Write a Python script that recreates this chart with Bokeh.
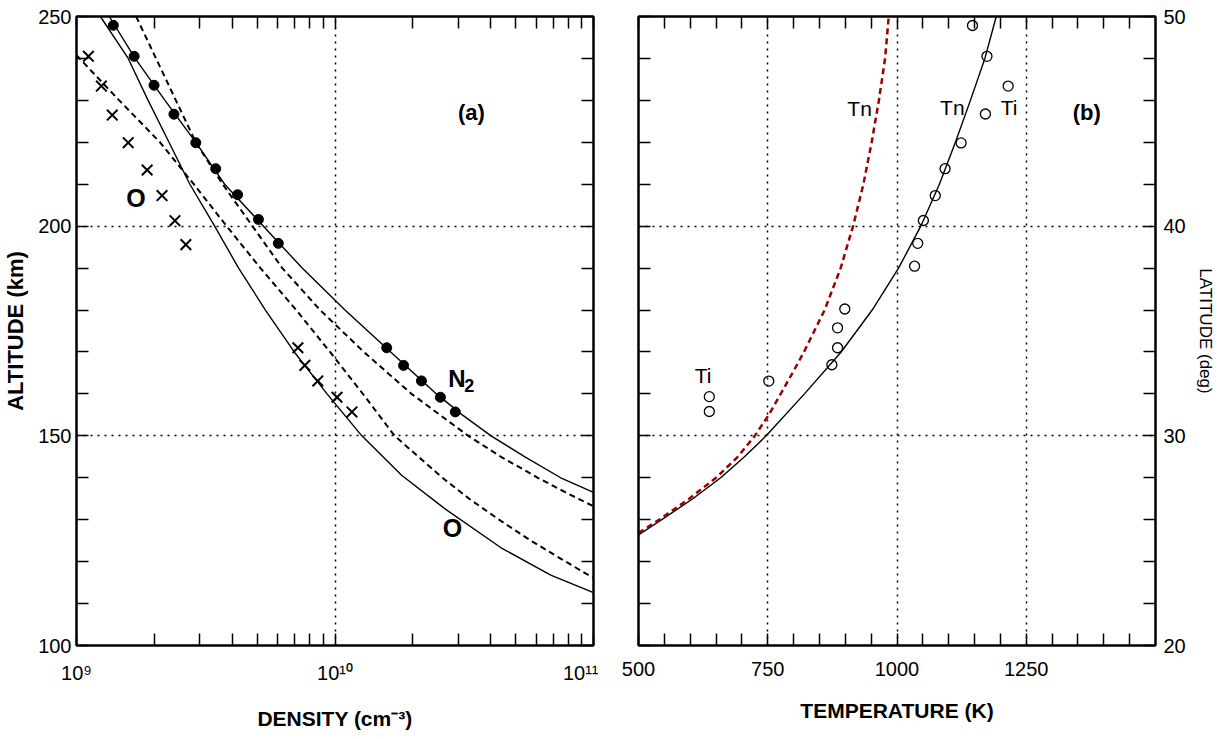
from bokeh.plotting import figure
from bokeh.models import Range1d, FixedTicker, LinearAxis, LogAxis, Label, CustomJSTickFormatter
from bokeh.layouts import row
from bokeh.embed import file_html
from bokeh.resources import INLINE

FONT = "Liberation Sans"

# ---------------- panel (a): density vs altitude ----------------
N2_OBS_ALT = [247.9, 240.5, 233.6, 226.7, 219.9, 213.7, 207.5, 201.6, 195.9, 171.0, 166.8, 163.1, 159.2, 155.7]
N2_OBS_DEN = [1.388e9, 1.671e9, 1.995e9, 2.382e9, 2.894e9, 3.455e9, 4.2e9, 5.056e9, 6.035e9,
              1.585e10, 1.842e10, 2.16e10, 2.557e10, 2.92e10]

O_OBS_ALT = [240.5, 233.4, 226.5, 219.9, 213.4, 207.3, 201.3, 195.6, 171.0, 166.8, 163.1, 159.2, 155.7]
O_OBS_DEN = [1.112e9, 1.248e9, 1.375e9, 1.585e9, 1.876e9, 2.142e9, 2.403e9, 2.649e9,
             7.186e9, 7.646e9, 8.581e9, 1.018e10, 1.163e10]

N2_FIT_ALT = [250, 240, 230, 220, 210, 200, 190, 180, 170, 160, 155, 150, 145, 140, 136.5]
N2_FIT_DEN = [1.339e9, 1.686e9, 2.199e9, 2.894e9, 3.742e9, 5.286e9, 7.467e9, 1.093e10,
              1.642e10, 2.469e10, 3.107e10, 4.016e10, 5.428e10, 7.467e10, 1.0e11]

O_FIT_ALT = [250, 240, 230, 220, 210, 200, 190, 180, 170, 160, 150, 140.6, 132.7, 123.3, 116.8, 112.6]
O_FIT_DEN = [1.237e9, 1.585e9, 1.892e9, 2.279e9, 2.745e9, 3.424e9, 4.237e9, 5.38e9, 6.956e9,
             9.316e9, 1.27e10, 1.81e10, 2.649e10, 4.388e10, 6.834e10, 1.0e11]

N2_MOD_ALT = [250, 240, 230, 220, 210, 200, 190, 180, 170, 160, 150, 145, 140, 136.5, 133.2]
N2_MOD_DEN = [1.701e9, 2.031e9, 2.424e9, 2.894e9, 3.676e9, 4.795e9, 6.254e9, 8.756e9,
              1.293e10, 1.978e10, 3.276e10, 4.388e10, 6.09e10, 7.804e10, 1.0e11]

O_MOD_ALT = [240.8, 240, 230, 220, 210, 200, 190, 180, 170, 160, 150, 140, 135, 130, 125, 120, 116.1]
O_MOD_DEN = [1.0e9, 1.027e9, 1.463e9, 2.104e9, 2.843e9, 3.81e9, 5.147e9, 7.079e9, 9.568e9,
             1.282e10, 1.701e10, 2.603e10, 3.305e10, 4.311e10, 5.725e10, 7.804e10, 1.0e11]

ALT_TICKS = [100, 150, 200, 250]
ALT_MINOR = [110, 120, 130, 140, 160, 170, 180, 190, 210, 220, 230, 240]
DEN_TICKS = [1e9, 1e10, 1e11]
DEN_MINOR = [k * 1e9 for k in range(2, 10)] + [k * 1e10 for k in range(2, 10)]

# ---------------- panel (b): temperature vs latitude ----------------
TI_LAT = [49.57, 48.10, 46.68, 45.35, 43.97, 42.74, 41.46, 40.27, 39.18, 38.09,
          36.05, 35.15, 34.20, 33.39, 32.61, 31.87, 31.16]
TI_T = [1146, 1174, 1215, 1171, 1124, 1093, 1074, 1051, 1040, 1034,
        899, 885, 885, 874, 752, 637, 637]

TN_FIT_LAT = [25.27, 26, 27, 28, 29, 30, 32, 34, 36, 38, 40, 42, 44, 46, 48, 50]
TN_FIT_T = [500, 545, 605, 659, 705, 747, 821, 892, 952, 1003, 1046, 1082, 1113, 1142, 1170, 1192]

TN_MOD_LAT = [25.37, 26, 27, 28, 29, 30, 31, 32, 33, 34, 36, 38, 40, 42, 44, 46, 48, 50]
TN_MOD_T = [500, 540, 598, 650, 692, 725, 752, 775, 798, 820, 860, 891, 915, 935, 951, 965, 977, 984]

T_TICKS = [500, 750, 1000, 1250]
T_MINOR = [t for t in range(550, 1500, 50) if t not in T_TICKS]
LAT_TICKS = [20, 30, 40, 50]
LAT_MINOR = [22, 24, 26, 28, 32, 34, 36, 38, 42, 44, 46, 48]

BLANK = "return '';"
SUPFMT = """
const sup = {'0':'\u2070','1':'\u00b9','2':'\u00b2','3':'\u00b3','4':'\u2074','5':'\u2075','6':'\u2076','7':'\u2077','8':'\u2078','9':'\u2079'};
const e = Math.round(Math.log10(tick));
return '10' + String(e).split('').map(c => sup[c]).join('');
"""


def style_axis(ax, major, minor, label_size="20px", blank=False, standoff=6, tick=12):
    ax.ticker = FixedTicker(ticks=major, minor_ticks=minor)
    ax.major_tick_in = tick
    ax.major_tick_out = 0
    ax.minor_tick_in = tick
    ax.minor_tick_out = 0
    ax.axis_line_width = 2
    ax.axis_line_color = "black"
    ax.major_tick_line_width = 1.5
    ax.minor_tick_line_width = 1.5
    ax.major_tick_line_color = "black"
    ax.minor_tick_line_color = "black"
    ax.major_label_text_font = FONT
    ax.major_label_text_font_size = label_size
    ax.major_label_text_color = "black"
    ax.major_label_standoff = standoff
    ax.axis_label_text_font = FONT
    ax.axis_label_text_color = "black"
    if blank:
        ax.formatter = CustomJSTickFormatter(code=BLANK)
        ax.major_label_standoff = 0


def style_fig(p, xg, yg):
    p.outline_line_color = "black"
    p.outline_line_width = 2
    p.background_fill_color = "white"
    p.border_fill_color = "white"
    p.xgrid.ticker = FixedTicker(ticks=xg)
    p.ygrid.ticker = FixedTicker(ticks=yg)
    for g in (p.xgrid, p.ygrid):
        g.grid_line_color = "black"
        g.grid_line_dash = "2 5"
        g.grid_line_width = 1.5


# ---------- figure (a)
p1 = figure(width=598, height=732, x_axis_type="log",
            x_range=Range1d(1e9, 1e11), y_range=Range1d(100, 250),
            output_backend="svg", toolbar_location=None,
            min_border_left=73, min_border_right=5, min_border_top=16, min_border_bottom=84)
style_fig(p1, [1e10], [150, 200])

bx = p1.xaxis[0]
style_axis(bx, DEN_TICKS, DEN_MINOR, standoff=16)
bx.formatter = CustomJSTickFormatter(code=SUPFMT)
bx.axis_label = "DENSITY (cm\u207b\u00b3)"
bx.axis_label_text_font_style = "bold"
bx.axis_label_text_font_size = "21px"
bx.axis_label_standoff = 20

ly = p1.yaxis[0]
style_axis(ly, ALT_TICKS, ALT_MINOR, standoff=5)
ly.axis_label = "ALTITUDE (km)"
ly.axis_label_text_font_style = "bold"
ly.axis_label_text_font_size = "22px"
ly.axis_label_standoff = 7

tx = LogAxis()
style_axis(tx, DEN_TICKS, DEN_MINOR, blank=True)
p1.add_layout(tx, "above")
ry = LinearAxis()
style_axis(ry, ALT_TICKS, ALT_MINOR, blank=True)
p1.add_layout(ry, "right")

p1.line(O_FIT_DEN, O_FIT_ALT, line_color="black", line_width=1.4)
p1.line(N2_FIT_DEN, N2_FIT_ALT, line_color="black", line_width=1.4)
p1.line(O_MOD_DEN, O_MOD_ALT, line_color="black", line_width=2, line_dash="6 4")
p1.line(N2_MOD_DEN, N2_MOD_ALT, line_color="black", line_width=2, line_dash="6 4")
p1.scatter(N2_OBS_DEN, N2_OBS_ALT, marker="circle", size=10, fill_color="black", line_color="black")
p1.scatter(O_OBS_DEN, O_OBS_ALT, marker="x", size=15, line_color="black", line_width=2)

A_TEXT = [("(a)", 3.37e10, 227.0, "bold", "22px"),
          ("O", 1.70e9, 206.6, "bold", "25px"),
          ("O", 2.845e10, 128.0, "bold", "25px")]
for t, x, y, st, sz in A_TEXT:
    p1.add_layout(Label(x=x, y=y, text=t, text_font=FONT, text_font_style=st, text_font_size=sz,
                        text_align="center", text_baseline="middle", text_color="black"))
p1.add_layout(Label(x=2.74e10, y=163.6, text="N", text_font=FONT, text_font_style="bold",
                    text_font_size="24px", text_align="left", text_baseline="middle",
                    text_color="black"))
p1.add_layout(Label(x=2.74e10, y=163.6, x_offset=16, y_offset=-7, text="2", text_font=FONT,
                    text_font_style="bold", text_font_size="18px", text_align="left",
                    text_baseline="middle", text_color="black"))

# ---------- figure (b)
p2 = figure(width=619, height=732, x_range=Range1d(500, 1500), y_range=Range1d(20, 50),
            output_backend="svg", toolbar_location=None, y_axis_location="right",
            min_border_left=40, min_border_right=60, min_border_top=16, min_border_bottom=84)
style_fig(p2, [750, 1000, 1250], [30, 40])

bx2 = p2.xaxis[0]
style_axis(bx2, T_TICKS, T_MINOR, standoff=16)
bx2.axis_label = "TEMPERATURE (K)"
bx2.axis_label_text_font_style = "bold"
bx2.axis_label_text_font_size = "21px"
bx2.axis_label_standoff = 20

ry2 = p2.yaxis[0]
style_axis(ry2, LAT_TICKS, LAT_MINOR, standoff=8)
ry2.axis_label = "LATITUDE (deg)"
ry2.axis_label_text_font_style = "normal"
ry2.axis_label_text_font_size = "17px"
ry2.axis_label_standoff = 7

tx2 = LinearAxis()
style_axis(tx2, T_TICKS, T_MINOR, blank=True)
p2.add_layout(tx2, "above")
ly2 = LinearAxis()
style_axis(ly2, LAT_TICKS, LAT_MINOR, blank=True)
p2.add_layout(ly2, "left")

p2.line(TN_FIT_T, TN_FIT_LAT, line_color="black", line_width=1.4)
p2.line(TN_MOD_T, TN_MOD_LAT, line_color="#990000", line_width=2.5, line_dash="6 4")
p2.scatter(TI_T, TI_LAT, marker="circle", size=10, fill_alpha=0, line_color="black", line_width=1.3)

B_TEXT = [("Tn", 927.7, 45.63, "normal", "21px"),
          ("Tn", 1107.0, 45.68, "normal", "21px"),
          ("Ti", 1216.8, 45.68, "normal", "21px"),
          ("(b)", 1367.0, 45.4, "bold", "22px"),
          ("Ti", 625.0, 32.87, "normal", "21px")]
for t, x, y, st, sz in B_TEXT:
    p2.add_layout(Label(x=x, y=y, text=t, text_font=FONT, text_font_style=st, text_font_size=sz,
                        text_align="center", text_baseline="middle", text_color="black"))

layout = row(p1, p2)
open("out.html", "w").write(file_html(layout, INLINE))
